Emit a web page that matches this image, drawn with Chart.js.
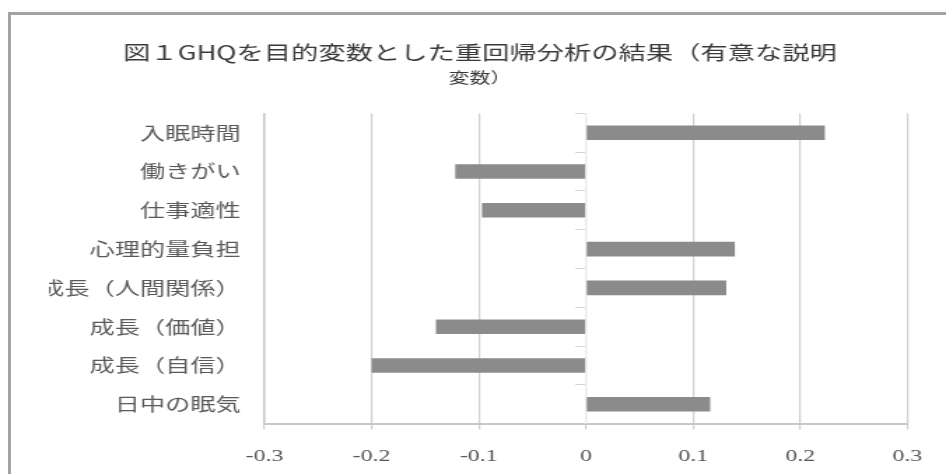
<!DOCTYPE html>
<html>
<head>
<meta charset="utf-8">
<script src="https://cdn.jsdelivr.net/npm/chart.js@4"></script>
<style>
  html, body { margin: 0; padding: 0; background: #fff; overflow: hidden; }
  #frame { position: absolute; left: 8px; top: 12px; width: 1000px; height: 500px;
           border-top: 3px solid #a3a3a3; border-left: 3px solid #a3a3a3; }
  #wrap { position: absolute; left: 0; top: 0; width: 676px; height: 484px;
          transform: scaleX(1.3994); transform-origin: 0 0; }
</style>
</head>
<body>
<div id="frame"></div>
<div id="wrap"><canvas id="grafico" width="676" height="484"></canvas></div>
<script>
var ctx = document.getElementById('grafico').getContext('2d');

// 説明変数と標準偏回帰係数
var variables = ['入眠時間', '働きがい', '仕事適性', '心理的量負担', '成長（人間関係）', '成長（価値）', '成長（自信）', '日中の眠気'];
var coeficientes = [0.223, -0.122, -0.097, 0.139, 0.131, -0.140, -0.200, 0.116];
var eje_min = -0.3;
var eje_max = 0.3;
var eje_paso = 0.1;

var titulo = '図１GHQを目的変数とした重回帰分析の結果（有意な説明';
var subtitulo = '変数）';

var fuente_jp = "'Noto Sans CJK JP', 'Noto Sans', sans-serif";
var fuente_num = "'Liberation Serif', 'DejaVu Serif', serif";

var chart_ghq = new Chart(ctx, {
    type: 'bar',
    data: {
        labels: variables,
        datasets: [{
            data: coeficientes,
            backgroundColor: '#8b8b8b',
            borderWidth: 0,
            barPercentage: 0.75,
            categoryPercentage: 0.5,
            yAxisID: 'y'
        }]
    },
    options: {
        indexAxis: 'y',
        responsive: false,
        animation: false,
        layout: { padding: { top: 41, left: 35, right: 25, bottom: 0 } },
        plugins: {
            legend: { display: false },
            tooltip: { enabled: false },
            title: {
                display: true,
                text: titulo,
                color: '#3a3a3a',
                font: { family: fuente_jp, size: 19.5, weight: 'normal' },
                padding: { top: 0, bottom: 0 }
            },
            subtitle: {
                display: true,
                text: subtitulo,
                color: '#3a3a3a',
                font: { family: fuente_jp, size: 15, weight: 'normal' },
                padding: { top: 4, bottom: 27 }
            }
        },
        scales: {
            x: {
                min: eje_min,
                max: eje_max,
                ticks: {
                    stepSize: eje_paso,
                    color: '#555',
                    padding: 17,
                    font: { family: fuente_num, size: 17 }
                },
                grid: { color: '#cfcfcf', lineWidth: 1.2, tickLength: 6 },
                border: { color: '#c8c8c8', width: 2 }
            },
            y: {
                ticks: {
                    color: '#5a5a5a',
                    padding: 17,
                    font: { family: fuente_jp, size: 18 }
                },
                grid: { display: false, drawTicks: false },
                border: { color: '#c8c8c8', width: 1.5 }
            },
            y2: {
                type: 'category',
                axis: 'y',
                position: { x: 0 },
                ticks: { display: false },
                grid: { drawOnChartArea: false, drawTicks: true, tickLength: 7, offset: true, color: '#d4d4d4' },
                border: { display: true, color: '#ececec' }
            }
        }
    }
});
</script>
</body>
</html>
